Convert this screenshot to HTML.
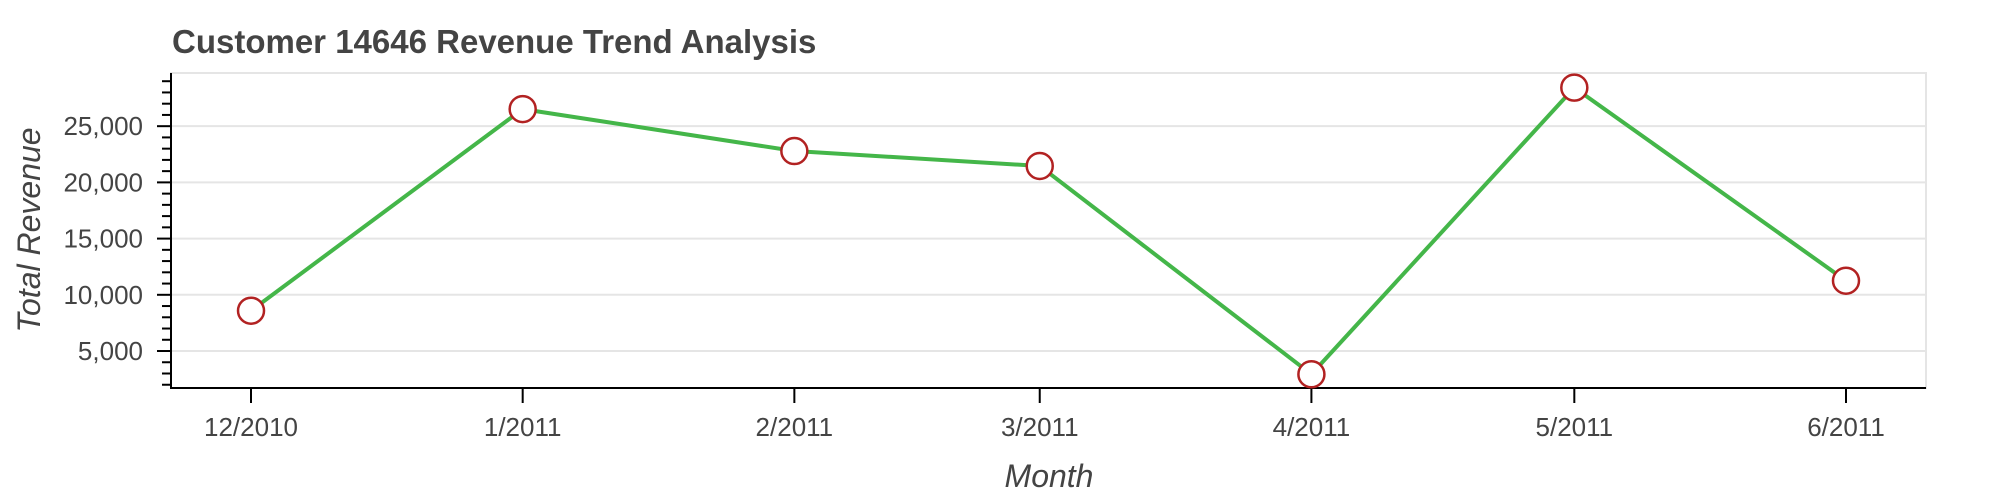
<!DOCTYPE html>
<html><head><meta charset="utf-8"><style>
html,body{margin:0;padding:0;background:#fff;}
svg{display:block;font-family:"Liberation Sans",sans-serif;}
</style></head><body>
<svg id="chart" width="2000" height="500" viewBox="0 0 2000 500">
<text x="172" y="53" font-size="33" font-weight="bold" fill="#444">Customer 14646 Revenue Trend Analysis</text>
<rect x="171" y="73" width="1755" height="315" fill="none" stroke="#e5e5e5" stroke-width="2"/>
<g id="grid"></g>
<g id="yaxis"></g>
<g id="xaxis"></g>
<g id="series"></g>
<text transform="translate(40,230) rotate(-90)" text-anchor="middle" font-size="32" font-style="italic" fill="#444">Total Revenue</text>
<text x="1049" y="487" text-anchor="middle" font-size="32" font-style="italic" fill="#444">Month</text>
</svg>
<script>
const categories = ["12/2010","1/2011","2/2011","3/2011","4/2011","5/2011","6/2011"];
const dayOffsets = [0,31,62,90,121,151,182];
const revenue = [8585,26520,22790,21460,2930,28430,11255];
const yTicks = [5000,10000,15000,20000,25000];
const yTickLabels = ["5,000","10,000","15,000","20,000","25,000"];

const NS="http://www.w3.org/2000/svg";
const L=171,R=1926,T=73,B=388;
const dMin=-9.13,dMax=191.13,yMin=1710,yMax=29730;
const xs=d=>L+(d-dMin)/(dMax-dMin)*(R-L);
const ys=v=>B-(v-yMin)/(yMax-yMin)*(B-T);
function mk(tag,attrs,parent){const e=document.createElementNS(NS,tag);for(const k in attrs)e.setAttribute(k,attrs[k]);parent.appendChild(e);return e;}
const grid=document.getElementById('grid'),ya=document.getElementById('yaxis'),xa=document.getElementById('xaxis'),ser=document.getElementById('series');
yTicks.forEach((v,i)=>{
  const y=ys(v);
  const g=mk('line',{x1:L,x2:R,y1:y,y2:y,stroke:'#e5e5e5','stroke-width':2},grid);
  
  
  const t=mk('line',{x1:157,x2:171,y1:y,y2:y,stroke:'#000','stroke-width':2},ya);
  
  
  const tx=mk('text',{x:143,y:y+9,'text-anchor':'end','font-size':26,fill:'#444'},ya);
  tx.textContent=yTickLabels[i];
  
  
});
for(let v=2000;v<=29000;v+=1000){
  if(v%5000===0)continue;
  const y=ys(v);
  const m=mk('line',{x1:162,x2:171,y1:y,y2:y,stroke:'#000','stroke-width':2},ya);
  
  
}
const yl=mk('line',{x1:L,x2:L,y1:T,y2:B+1,stroke:'#000','stroke-width':2},ya);


const xl=mk('line',{x1:L,x2:R,y1:B,y2:B,stroke:'#000','stroke-width':2},xa);


categories.forEach((c,i)=>{
  const x=xs(dayOffsets[i]);
  const t=mk('line',{x1:x,x2:x,y1:B,y2:403,stroke:'#000','stroke-width':2},xa);
  
  
  const tx=mk('text',{x:x,y:436,'text-anchor':'middle','font-size':26,fill:'#444'},xa);
  tx.textContent=c;
  
  
});
const pts=revenue.map((v,i)=>xs(dayOffsets[i])+','+ys(v)).join(' ');
const pl=mk('polyline',{points:pts,fill:'none',stroke:'#44b649','stroke-width':4,'stroke-linejoin':'round'},ser);


revenue.forEach((v,i)=>{
  const c=mk('circle',{cx:xs(dayOffsets[i]),cy:ys(v),r:13,fill:'#fff',stroke:'#b22222','stroke-width':2.5},ser);
  
  
});
</script>
</body></html>
